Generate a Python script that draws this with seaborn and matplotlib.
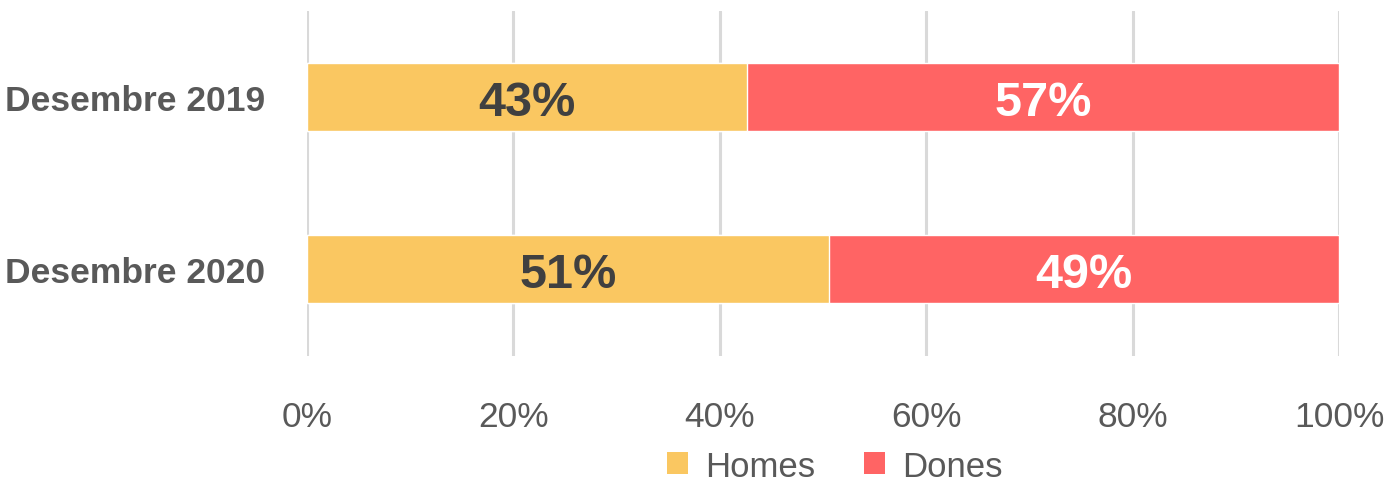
import matplotlib
matplotlib.use("Agg")
import matplotlib.pyplot as plt
import seaborn as sns
import pandas as pd
from matplotlib.patches import Patch

categories = ["Desembre 2019", "Desembre 2020"]
homes = [42.6, 50.6]
dones = [57.4, 49.4]
series_names = ["Homes", "Dones"]
x_ticks = [0, 20, 40, 60, 80, 100]
x_tick_labels = ["0%", "20%", "40%", "60%", "80%", "100%"]

c_homes = "#FAC761"
c_dones = "#FF6464"

sns.set_theme(style="white")
plt.rcParams["font.family"] = ["Liberation Sans", "DejaVu Sans"]

df = pd.DataFrame({"cat": categories, "homes": homes, "dones": dones})
df["total"] = df["homes"] + df["dones"]

fig = plt.figure(figsize=(13.89, 4.81), dpi=100)
ax = fig.add_axes([0.221, 0.258, 0.743, 0.717])

sns.barplot(data=df, y="cat", x="total", color=c_dones, orient="h",
            width=0.395, saturation=1, ax=ax, zorder=3)
sns.barplot(data=df, y="cat", x="homes", color=c_homes, orient="h",
            width=0.395, saturation=1, ax=ax, zorder=3)

for i, (h, d) in enumerate(zip(homes, dones)):
    ax.text(h / 2, i + 0.03, f"{round(h)}%", ha="center", va="center",
            fontsize=35, fontweight="bold", color="#404040", zorder=4)
    ax.text(h + d / 2, i + 0.03, f"{round(d)}%", ha="center", va="center",
            fontsize=35, fontweight="bold", color="white", zorder=4)

ax.set_xlim(0, 100)
ax.set_ylim(1.505, -0.5)
ax.set_xticks(x_ticks)
ax.set_xticklabels(x_tick_labels)
ax.xaxis.grid(True, color="#D9D9D9", linewidth=2.2, zorder=0)
ax.yaxis.grid(False)
for s in ax.spines.values():
    s.set_visible(False)
ax.tick_params(axis="x", length=0, pad=32, labelsize=25.5, labelcolor="#595959")
ax.tick_params(axis="y", length=0, pad=30, labelsize=25.5, labelcolor="#595959")
for lab in ax.get_yticklabels():
    lab.set_fontweight("bold")
ax.set_xlabel("")
ax.set_ylabel("")

handles = [Patch(facecolor=c_homes, edgecolor="none"),
           Patch(facecolor=c_dones, edgecolor="none")]
leg = fig.legend(handles, series_names, loc="center", bbox_to_anchor=(0.601, 0.029),
                 ncol=2, frameon=False, fontsize=25, handlelength=0.6,
                 handleheight=0.6, handletextpad=0.5, columnspacing=1.4)
for t in leg.get_texts():
    t.set_color("#595959")

fig.savefig("out.png", dpi=100)
